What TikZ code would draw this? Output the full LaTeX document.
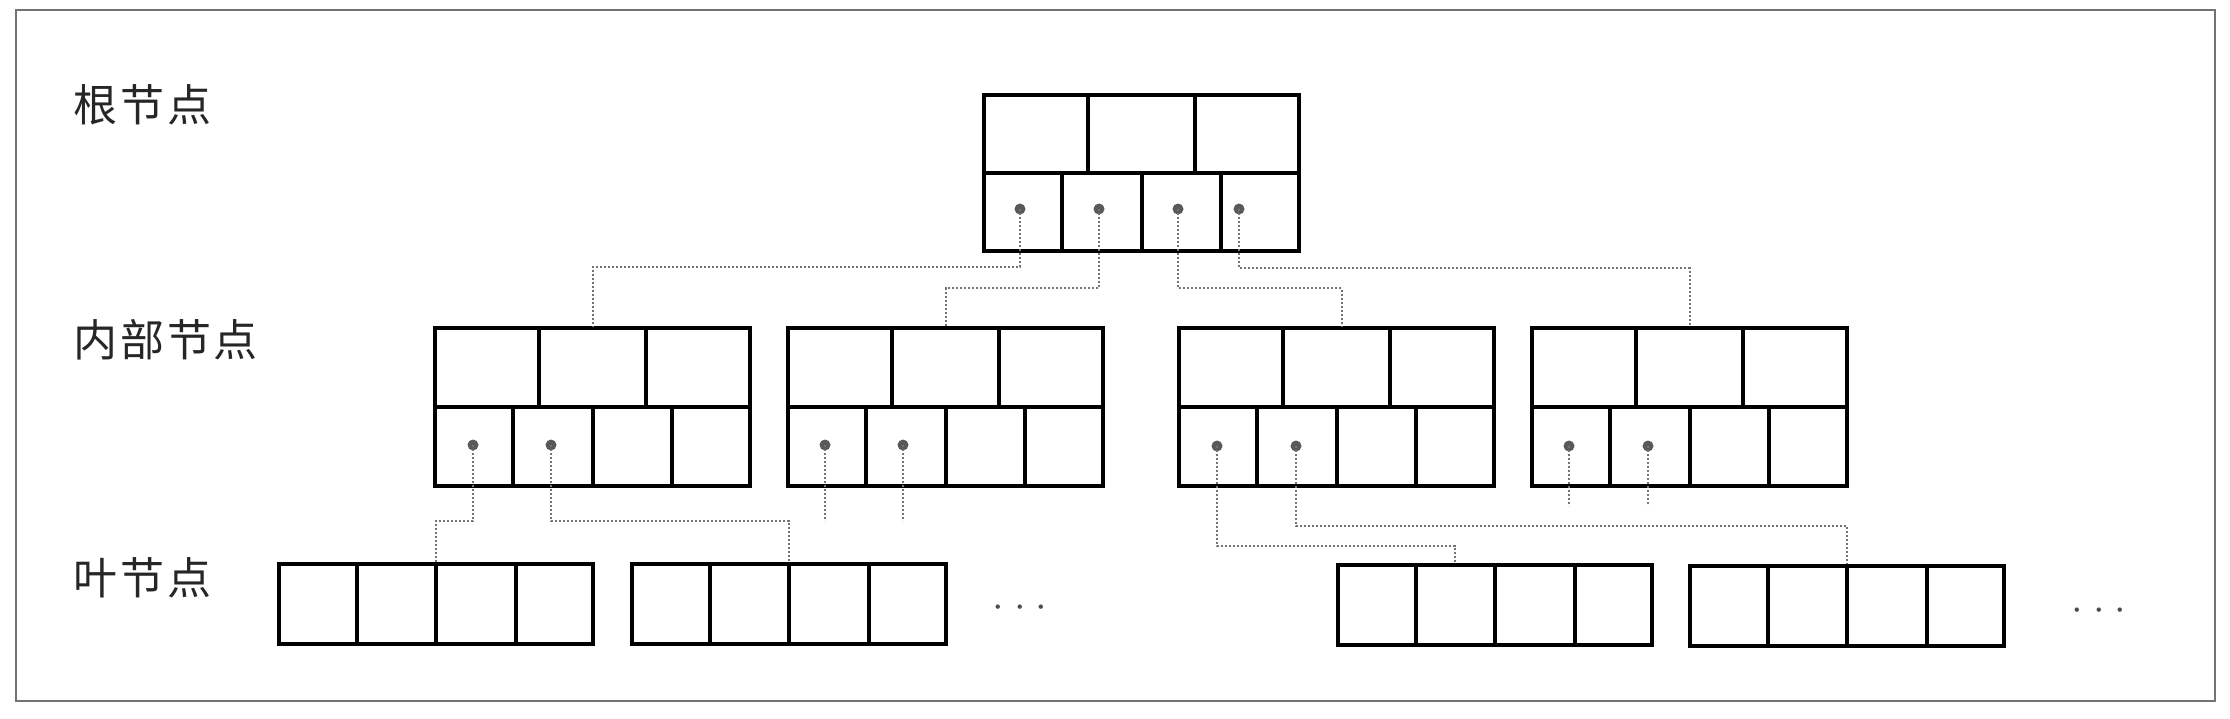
\documentclass[tikz,border=0pt]{standalone}
\usepackage{fontspec}
\newfontfamily\cjk[LetterSpace=6.5]{Noto Sans CJK SC}
\usetikzlibrary{calc}
\tikzset{
  nodebox/.style={draw=black, line width=2pt, rectangle, inner sep=0pt, anchor=north west},
  rootbox/.style={nodebox, minimum width=157.5pt, minimum height=78pt},
  innerbox/.style={nodebox, minimum width=157.5pt, minimum height=79pt},
  leafbox/.style={nodebox, minimum width=157pt, minimum height=40pt},
  cellline/.style={line width=2pt, draw=black},
  ptr/.style={circle, fill=black!65, inner sep=0pt, minimum size=5.5pt},
  conn/.style={draw=black!55, line width=1pt, dash pattern=on 1.2pt off 0.8pt},
  lvl/.style={font=\cjk\fontsize{22}{22}\selectfont, anchor=west, inner sep=0pt, text=black!85},
  dotsnode/.style={inner sep=0pt, text=black!70, font=\fontsize{20}{20}\selectfont},
  framebox/.style={draw=black!55, line width=1pt},
}
\newcommand\pnodecells[1]{%
  \draw[cellline] (#1.west) -- (#1.east);
  \foreach \f in {0.3333,0.6667}
    \draw[cellline] ($(#1.north west)!\f!(#1.north east)$) -- ($(#1.west)!\f!(#1.east)$);
  \foreach \f in {0.25,0.5,0.75}
    \draw[cellline] ($(#1.west)!\f!(#1.east)$) -- ($(#1.south west)!\f!(#1.south east)$);
}
\newcommand\leafcells[1]{%
  \foreach \f in {0.25,0.5,0.75}
    \draw[cellline] ($(#1.north west)!\f!(#1.north east)$) -- ($(#1.south west)!\f!(#1.south east)$);
}
\begin{document}
\begin{tikzpicture}[x=0.5pt,y=-0.5pt]
\useasboundingbox (0,0) rectangle (2230,718);
\draw[framebox] (16,10) rectangle (2215,701);

% level labels
\node[lvl] (t1) at (73,105) {根节点};
\node[lvl] (t2) at (73,340) {内部节点};
\node[lvl] (t3) at (73,578) {叶节点};

% root
\node[rootbox] (root) at (982,93) {};
\pnodecells{root}

% internal nodes
\node[innerbox] (i1) at (433,326) {};
\node[innerbox] (i2) at (786,326) {};
\node[innerbox] (i3) at (1177,326) {};
\node[innerbox] (i4) at (1530,326) {};
\foreach \n in {i1,i2,i3,i4} {\pnodecells{\n}}

% leaves
\node[leafbox] (l1) at (277,562) {};
\node[leafbox] (l2) at (630,562) {};
\node[leafbox] (l3) at (1336,563) {};
\node[leafbox] (l4) at (1688,564) {};
\foreach \n in {l1,l2,l3,l4} {\leafcells{\n}}

% ellipses
\node[dotsnode] (e1) at (1020,608) {$\cdot$\hspace{5pt}$\cdot$\hspace{5pt}$\cdot$};
\node[dotsnode] (e2) at (2099,611) {$\cdot$\hspace{5pt}$\cdot$\hspace{5pt}$\cdot$};

% pointer dots
\node[ptr] (rd1) at (1020,209) {};
\node[ptr] (rd2) at (1099,209) {};
\node[ptr] (rd3) at (1178,209) {};
\node[ptr] (rd4) at (1239,209) {};
\node[ptr] (d11) at (473,445) {};
\node[ptr] (d12) at (551,445) {};
\node[ptr] (d21) at (825,445) {};
\node[ptr] (d22) at (903,445) {};
\node[ptr] (d31) at (1217,446) {};
\node[ptr] (d32) at (1296,446) {};
\node[ptr] (d41) at (1569,446) {};
\node[ptr] (d42) at (1648,446) {};

% free ends of stubs
\coordinate (s21) at (825,521);
\coordinate (s22) at (903,521);
\coordinate (s41) at (1569,506);
\coordinate (s42) at (1648,506);

% connectors root -> internal
\draw[conn] (rd1.center) -- (rd1 |- 0,267) -| (i1.north);
\draw[conn] (rd2.center) -- (rd2 |- 0,288) -| (i2.north);
\draw[conn] (rd3.center) -- (rd3 |- 0,288) -| ($(i3.north)+(5,0)$);
\draw[conn] (rd4.center) -- (rd4 |- 0,268) -| (i4.north);

% connectors internal -> leaves
\draw[conn] (d11.center) -- (d11 |- 0,521) -| (l1.north);
\draw[conn] (d12.center) -- (d12 |- 0,521) -| (l2.north);
\draw[conn] (d21.center) -- (s21);
\draw[conn] (d22.center) -- (s22);
\draw[conn] (d31.center) -- (d31 |- 0,546) -| ($(l3.north)+(-40,0)$);
\draw[conn] (d32.center) -- (d32 |- 0,526) -| (l4.north);
\draw[conn] (d41.center) -- (s41);
\draw[conn] (d42.center) -- (s42);
\end{tikzpicture}
\end{document}
